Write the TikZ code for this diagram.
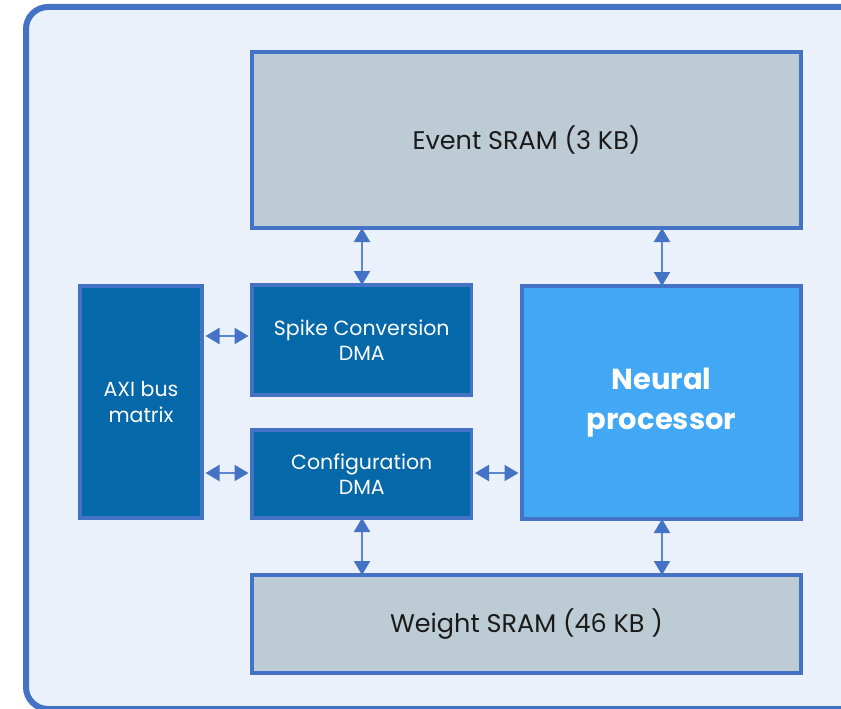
\documentclass[tikz,border=0pt]{standalone}
\usepackage{fontspec}
\setmainfont{Poppins}
\usetikzlibrary{arrows.meta}
\definecolor{frame}{HTML}{4472C4}
\definecolor{bgfill}{HTML}{EAF1FA}
\definecolor{sram}{HTML}{BDCBD4}
\definecolor{dma}{HTML}{0468A9}
\definecolor{npu}{HTML}{42A7F4}
\definecolor{txt}{HTML}{1A1A1A}
\definecolor{arr}{HTML}{5B86D0}
\tikzset{
  blk/.style={draw=frame, line width=3.5pt, align=center, inner sep=0pt},
  sramblk/.style={blk, fill=sram, text=txt, font=\fontsize{25.5}{30}\selectfont},
  dmablk/.style={blk, fill=dma, text=white, font=\fontsize{20.5}{25.5}\selectfont},
  npublk/.style={blk, fill=npu, text=white, font=\bfseries\fontsize{29}{40}\selectfont},
  biarrow/.style={draw=arr, line width=2pt, {Triangle[width=16pt,length=14pt,color=frame]}-{Triangle[width=16pt,length=14pt,color=frame]}}
}
\begin{document}
\begin{tikzpicture}[x=1pt,y=-1pt]
\useasboundingbox (0,0) rectangle (841,709);
\draw[draw=frame, fill=bgfill, line width=6pt, rounded corners=22pt] (26,7) rectangle (880,709);
\node[sramblk, minimum width=549pt, minimum height=176pt] (event) at (526.5,140) {Event SRAM (3 KB)};
\node[dmablk, minimum width=219.5pt, minimum height=110pt] (spike) at (361.75,340) {Spike Conversion\\DMA};
\node[dmablk, minimum width=219.5pt, minimum height=88pt] (config) at (361.75,474) {Configuration\\DMA};
\node[dmablk, minimum width=122pt, minimum height=232pt] (axi) at (141,402) {AXI bus\\matrix};
\node[npublk, minimum width=279pt, minimum height=233pt] (npu) at (661.5,402.5) {Neural\\processor};
\node[sramblk, minimum width=549pt, minimum height=98pt] (weight) at (526.5,624) {Weight SRAM (46 KB )};
\coordinate (a1) at (axi.east |- 0,336);
\coordinate (s1) at (spike.west |- 0,336);
\coordinate (a2) at (axi.east |- 0,473);
\coordinate (c2) at (config.west |- 0,473);
\coordinate (c3) at (config.east |- 0,473);
\coordinate (n3) at (npu.west |- 0,473);
\coordinate (e1) at (event.south -| 362,0);
\coordinate (s4) at (spike.north -| 362,0);
\coordinate (e2) at (event.south -| 662,0);
\coordinate (n2) at (npu.north -| 662,0);
\coordinate (c5) at (config.south -| 362,0);
\coordinate (w5) at (weight.north -| 362,0);
\coordinate (n6) at (npu.south -| 662,0);
\coordinate (w6) at (weight.north -| 662,0);
\draw[biarrow] ([xshift=1.75pt]a1) -- ([xshift=-1.75pt]s1);
\draw[biarrow] ([xshift=1.75pt]a2) -- ([xshift=-1.75pt]c2);
\draw[biarrow] ([xshift=1.75pt]c3) -- ([xshift=-1.75pt]n3);
\draw[biarrow] ([yshift=1.75pt]e1) -- ([yshift=-1.75pt]s4);
\draw[biarrow] ([yshift=1.75pt]e2) -- ([yshift=-1.75pt]n2);
\draw[biarrow] ([yshift=1.75pt]c5) -- ([yshift=-1.75pt]w5);
\draw[biarrow] ([yshift=1.75pt]n6) -- ([yshift=-1.75pt]w6);
\end{tikzpicture}
\end{document}
